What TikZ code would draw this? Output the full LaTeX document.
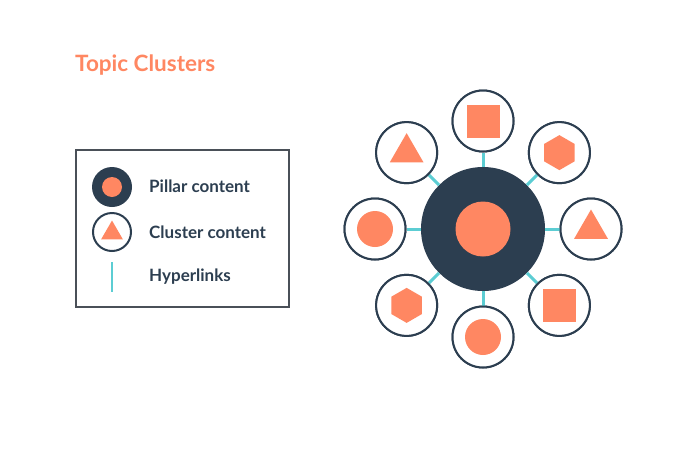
\documentclass[tikz,border=0pt]{standalone}
\usepackage{fontspec}
\setmainfont{Lato}
\usetikzlibrary{shapes.geometric,calc}
\definecolor{hsorange}{HTML}{FF8762}
\definecolor{hsnavy}{HTML}{2C3E50}
\definecolor{hsteal}{HTML}{5CCDD3}
\definecolor{hsgray}{HTML}{4A5058}
\tikzset{
  pillar/.style={circle,fill=hsnavy,inner sep=0,minimum size=#1},
  cluster/.style={circle,draw=hsnavy,line width=2,fill=white,inner sep=0,minimum size=#1},
  link/.style={hsteal,line width=3},
  ocircle/.style={circle,fill=hsorange,inner sep=0,minimum size=36},
  osquare/.style={rectangle,fill=hsorange,inner sep=0,minimum size=33},
  otriangle/.style={regular polygon,regular polygon sides=3,fill=hsorange,inner sep=0,minimum size=39},
  ohexagon/.style={regular polygon,regular polygon sides=6,shape border rotate=30,fill=hsorange,inner sep=0,minimum size=35},
  legendtext/.style={anchor=west,inner sep=0,text=hsnavy,font=\fontsize{17}{20}\selectfont\bfseries}
}

\begin{document}
\begin{tikzpicture}[x=1pt,y=-1pt]
\useasboundingbox (0,0) rectangle (700,450);

\node[anchor=west,inner sep=0,text=hsorange,font=\fontsize{22.5}{26}\selectfont\bfseries] (title) at (75,65) {Topic Clusters};

% legend
\draw[hsgray,line width=2] (76,150) rectangle (289,307);
\node[pillar=40] (lpillar) at (112,187) {};
\node[ocircle,minimum size=20] (lpillardot) at (lpillar) {};
\node[cluster=38] (lcluster) at (112,232) {};
\node[otriangle,minimum size=25] (lclustertri) at (112,233) {};
\coordinate (ltop) at (112,262);
\coordinate (lbot) at (112,292);
\draw[hsteal,line width=2.5] (ltop) -- (lbot);
\node[legendtext] (tpillar) at (149,186) {Pillar content};
\node[legendtext] (tcluster) at (149,232) {Cluster content};
\node[legendtext] (tlinks) at (149,277) {Hyperlinks};

% cluster diagram
\node[pillar=124] (pillar) at (483,229) {};
\node[ocircle,minimum size=55] (pillardot) at (pillar) {};

\foreach \a/\s [count=\i] in {-90/osquare,-45/ohexagon,0/otriangle,45/osquare,90/ocircle,135/ohexagon,180/ocircle,225/otriangle}{
  \node[cluster=61] (c\i) at ($(pillar)+(\a:108)$) {};
  \draw[link] (pillar) -- (c\i);
  \node[cluster=61] at (c\i) {};
  \node[\s] (s\i) at (c\i) {};
}

\end{tikzpicture}
\end{document}
